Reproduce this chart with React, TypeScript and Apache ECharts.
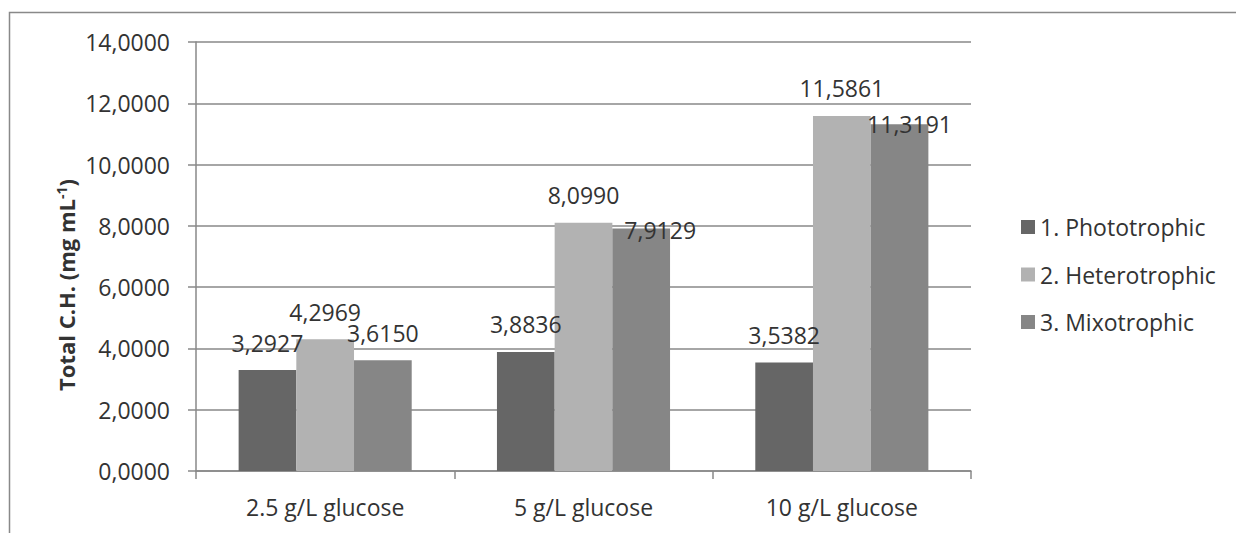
import React, { useEffect, useRef } from "react";
import * as echarts from "echarts";

const categories = ["2.5 g/L glucose", "5 g/L glucose", "10 g/L glucose"];
const seriesNames = ["1. Phototrophic", "2. Heterotrophic", "3. Mixotrophic"];
const phototrophic = [3.2927, 3.8836, 3.5382];
const heterotrophic = [4.2969, 8.099, 11.5861];
const mixotrophic = [3.615, 7.9129, 11.3191];
const yTicks = { min: 0, max: 14, interval: 2 };

const FONT = "'Open Sans', 'Liberation Sans', sans-serif";
const colors = ["#666666", "#b2b2b2", "#868686"];
const fmt = (v: number) => v.toFixed(4).replace(".", ",");

// label nudges to mimic the reference's placement (series index -> data index -> [dx, dy])
const labelNudge: Record<number, Record<number, [number, number]>> = {
  2: { 1: [19, 29], 2: [10, 27] },
};

export default function App() {
  const ref = useRef<HTMLDivElement>(null);
  useEffect(() => {
    if (!ref.current) return;
    const chart = echarts.init(ref.current, null, { renderer: "svg" });
    const all = [phototrophic, heterotrophic, mixotrophic];
    const series = all.map((vals, si) => ({
      name: seriesNames[si],
      type: "bar",
      barGap: "0%",
      barCategoryGap: "33%",
      itemStyle: { color: colors[si] },
      label: {
        show: true,
        position: "top",
        distance: 16,
        fontFamily: FONT,
        fontSize: 23,
        color: "#333333",
        formatter: (p: any) => fmt(p.value),
      },
      data: vals.map((v, di) => {
        const n = labelNudge[si] && labelNudge[si][di];
        return n ? { value: v, label: { offset: n } } : v;
      }),
    }));
    chart.setOption({
      animation: false,
      backgroundColor: "#ffffff",
      grid: { left: 196, top: 42, right: 265, bottom: 62 },
      legend: {
        orient: "vertical",
        left: 1016,
        top: 210,
        itemWidth: 14,
        itemHeight: 14,
        itemGap: 23.5,
        icon: "rect",
        data: seriesNames,
        textStyle: { fontFamily: FONT, fontSize: 23, color: "#333333", lineHeight: 24 },
      },
      xAxis: {
        type: "category",
        data: categories,
        axisLine: { lineStyle: { color: "#888888", width: 1.5 } },
        axisTick: { show: true, length: 8, lineStyle: { color: "#888888", width: 1.5 } },
        axisLabel: { fontFamily: FONT, fontSize: 23, color: "#333333", margin: 24 },
      },
      yAxis: {
        type: "value",
        min: yTicks.min,
        max: yTicks.max,
        interval: yTicks.interval,
        axisLine: { show: true, lineStyle: { color: "#888888", width: 1.5 } },
        axisTick: { show: true, length: 8, lineStyle: { color: "#888888", width: 1.5 } },
        splitLine: { show: true, lineStyle: { color: "#888888", width: 1.5 } },
        axisLabel: {
          fontFamily: FONT,
          fontSize: 23,
          color: "#333333",
          margin: 26,
          formatter: (v: number) => fmt(v),
        },
      },
      graphic: [
        {
          type: "rect",
          silent: true,
          shape: { x: 9.5, y: 12.5, width: 1400, height: 800 },
          style: { fill: "none", stroke: "#898989", lineWidth: 1.5 },
        },
        {
          type: "text",
          x: 66,
          y: 285,
          rotation: Math.PI / 2,
          style: {
            text: "{b|Total C.H. (mg mL}{s|-1}{b|)}",
            align: "center",
            verticalAlign: "middle",
            rich: {
              b: { fontFamily: FONT, fontSize: 22, fontWeight: "bold", fill: "#333333", lineHeight: 24 },
              s: {
                fontFamily: FONT,
                fontSize: 14,
                fontWeight: "bold",
                fill: "#333333",
                verticalAlign: "top",
                lineHeight: 24,
                padding: [0, 0, 8, 0],
              },
            },
          },
        },
      ],
      series,
    });
    return () => chart.dispose();
  }, []);
  return (
    <div
      ref={ref}
      style={{ position: "fixed", left: 0, top: 0, width: 1236, height: 533, background: "#fff" }}
    />
  );
}
